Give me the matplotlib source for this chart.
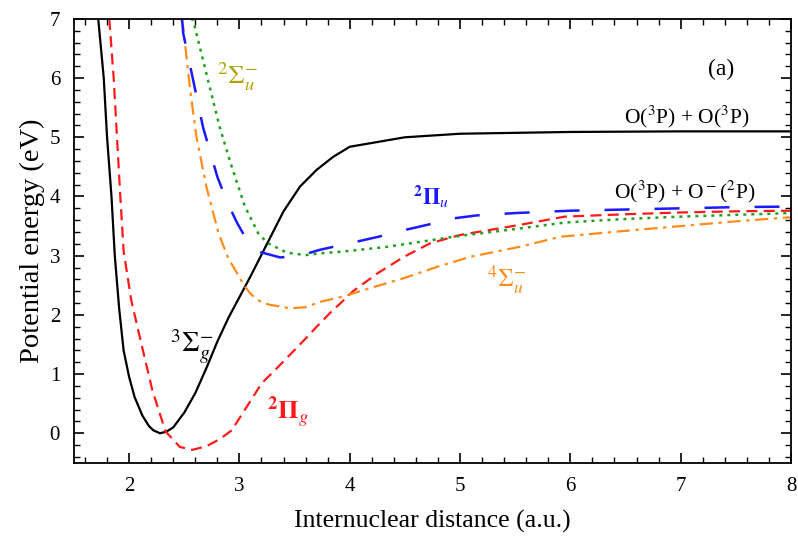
import numpy as np
import matplotlib.pyplot as plt

# 3Sigma_g^-  (black solid)
r_3sg = [1.72, 1.77, 1.80, 1.84, 1.87, 1.91, 1.95, 2.00, 2.05, 2.12, 2.18, 2.22, 2.28,
         2.34, 2.40, 2.50, 2.60, 2.70, 2.80, 2.90, 3.00, 3.10, 3.25, 3.40, 3.55, 3.70,
         3.85, 4.00, 4.50, 5.00, 6.00, 7.00, 8.00]
e_3sg = [7.00, 6.00, 5.00, 4.00, 3.00, 2.10, 1.40, 0.95, 0.61, 0.30, 0.12, 0.05, 0.00,
         0.03, 0.10, 0.35, 0.68, 1.10, 1.55, 1.95, 2.30, 2.65, 3.20, 3.75, 4.17, 4.45,
         4.67, 4.84, 5.00, 5.06, 5.09, 5.10, 5.10]

# 2Pi_g  (red dashed)
r_2pg = [1.82, 1.86, 1.89, 1.92, 1.95, 2.02, 2.11, 2.21, 2.33, 2.46, 2.57, 2.70, 2.82,
         2.93, 3.05, 3.20, 3.35, 3.47, 3.60, 3.71, 3.82, 3.94, 4.03, 4.25, 4.49, 4.73,
         5.00, 5.54, 5.95, 6.50, 7.00, 7.50, 8.00]
e_2pg = [7.00, 6.00, 5.00, 4.00, 3.08, 2.24, 1.52, 0.73, 0.03, -0.23, -0.28, -0.22, -0.10,
         0.05, 0.40, 0.84, 1.12, 1.35, 1.60, 1.82, 2.03, 2.24, 2.40, 2.70, 2.98, 3.21,
         3.35, 3.52, 3.66, 3.70, 3.73, 3.75, 3.76]

# 4Sigma_u^-  (orange dash-dot)
r_4su = [2.47, 2.49, 2.55, 2.61, 2.70, 2.81, 2.90, 2.98, 3.04, 3.10, 3.16, 3.22, 3.28,
         3.46, 3.60, 3.73, 3.94, 4.18, 4.49, 4.79, 5.09, 5.54, 5.91, 6.50, 7.00, 7.50,
         8.00]
e_4su = [7.00, 6.87, 5.85, 5.01, 4.17, 3.38, 2.95, 2.70, 2.50, 2.36, 2.26, 2.20, 2.17,
         2.11, 2.13, 2.22, 2.31, 2.45, 2.62, 2.81, 2.98, 3.15, 3.32, 3.42, 3.50, 3.58,
         3.65]

# 2Sigma_u^-  (green dotted)
r_2su = [2.56, 2.58, 2.64, 2.73, 2.82, 2.92, 3.05, 3.17, 3.25, 3.43, 3.60, 3.73, 3.94,
         4.34, 4.94, 5.54, 5.95, 6.50, 7.00, 7.50, 8.00]
e_2su = [7.00, 6.98, 6.53, 5.85, 5.18, 4.56, 3.83, 3.38, 3.22, 3.05, 3.01, 3.04, 3.07,
         3.15, 3.32, 3.46, 3.56, 3.62, 3.66, 3.69, 3.72]

# 2Pi_u  (blue long dash)
r_2pu = [2.48, 2.49, 2.58, 2.67, 2.80, 2.89, 2.98, 3.05, 3.12, 3.19, 3.37, 3.55, 3.73,
         4.07, 4.26, 4.49, 4.70, 4.94, 5.15, 5.50, 6.00, 6.50, 7.00, 7.50, 8.00]
e_2pu = [7.00, 6.76, 5.97, 5.17, 4.33, 3.90, 3.55, 3.32, 3.15, 3.06, 2.97, 3.00, 3.10,
         3.24, 3.32, 3.43, 3.52, 3.63, 3.68, 3.72, 3.76, 3.78, 3.80, 3.82, 3.83]

plt.rcParams['font.family'] = ['Liberation Serif', 'DejaVu Serif']
plt.rcParams['mathtext.fontset'] = 'stix'

fig = plt.figure(figsize=(7.98, 5.38), dpi=100)
ax = fig.add_axes([0.0927, 0.1396, 0.8985, 0.8253])

ax.plot(r_3sg, e_3sg, color='black', linewidth=1.6)
ax.plot(r_2pg, e_2pg, color='#ff1a1a', linewidth=1.6, linestyle=(0, (5, 2.8)))
ax.plot(r_4su, e_4su, color='#ff8c1a', linewidth=1.6, linestyle=(0, (6, 2.5, 1.5, 2.5)))
ax.plot(r_2su, e_2su, color='#22a022', linewidth=1.8, linestyle=(0, (1.2, 2)))
ax.plot(r_2pu, e_2pu, color='#1a1aff', linewidth=1.8, linestyle=(0, (10, 10)))

ax.text(2.98, 6.03, r'$^{2}\Sigma_{u}^{-}$', color='#b0a400', fontsize=19,
        ha='center', va='center')
ax.text(4.74, 4.0, r'$^{\mathbf{2}}\mathbf{\Pi}_{u}$', color='#1a1aff', fontsize=16,
        ha='center', va='center')
ax.text(5.42, 2.6, r'$^{4}\Sigma_{u}^{-}$', color='#ff8c1a', fontsize=18,
        ha='center', va='center')
ax.text(2.57, 1.47, r'$^{3}\Sigma_{g}^{-}$', color='black', fontsize=20,
        ha='center', va='center')
ax.text(3.44, 0.35, r'$^{\mathbf{2}}\mathbf{\Pi}_{g}$', color='#ff1a1a', fontsize=19,
        ha='center', va='center')
ax.text(7.37, 6.15, '(a)', fontsize=17, ha='center', va='center')
ax.text(7.05, 5.35, r'O($^3$P) + O($^3$P)', fontsize=15.5, ha='center', va='center')
ax.text(7.04, 4.07, r'O($^3$P) + O$^-$($^2$P)', fontsize=15.5, ha='center', va='center')

ax.set_xlim(1.5, 8)
ax.set_ylim(-0.5, 7)
ax.set_xticks([2, 3, 4, 5, 6, 7, 8])
ax.set_yticks([0, 1, 2, 3, 4, 5, 6, 7])
ax.set_xticks(np.arange(1.6, 8.01, 0.2), minor=True)
ax.set_yticks(np.arange(-0.4, 7.01, 0.2), minor=True)
ax.tick_params(which='both', direction='in', top=True, right=True)
ax.tick_params(which='major', length=7, width=1.2, labelsize=15, pad=10)
ax.tick_params(which='minor', length=4, width=1.0)
for s in ax.spines.values():
    s.set_linewidth(1.3)

ax.set_xlabel('Internuclear distance (a.u.)', fontsize=18.5, labelpad=10)
ax.set_ylabel('Potential energy (eV)', fontsize=20.5, labelpad=3)

fig.savefig('out.png', dpi=100)
